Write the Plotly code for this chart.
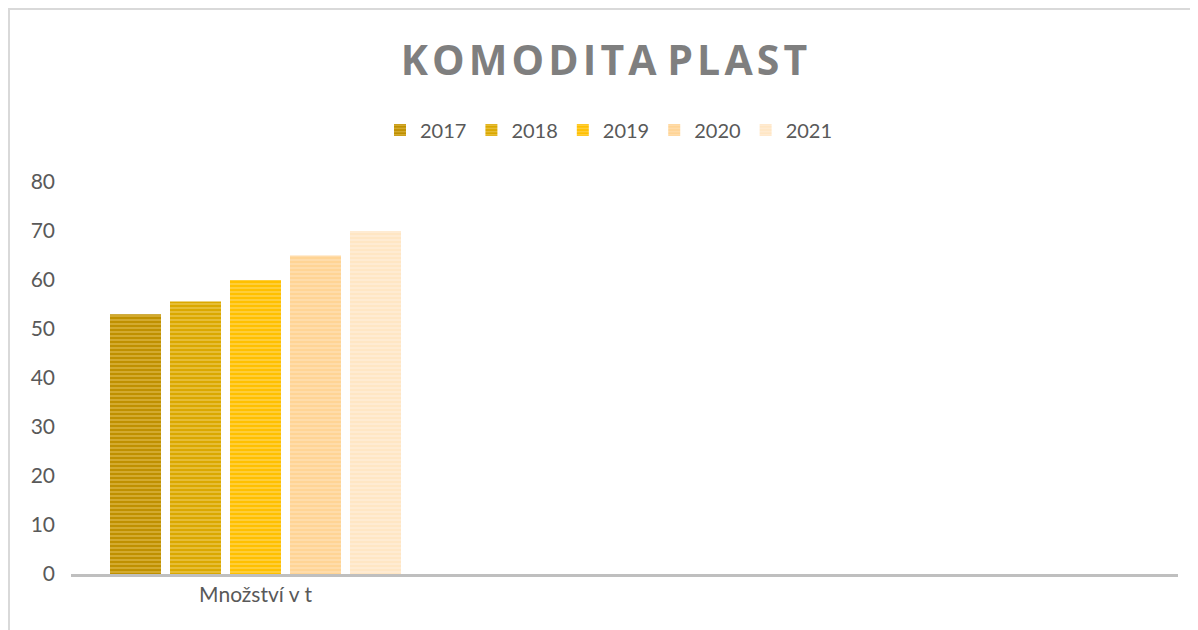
import plotly.graph_objects as go

categories = ["Množství v t"]
years = ["2017", "2018", "2019", "2020", "2021"]
values = [53, 55.6, 60, 65, 70]
base_colors = ["#BF9000", "#DAA800", "#FFC000", "#FFD495", "#FFE6C4"]
stripe_colors = ["#EBCB68", "#F4D878", "#FFE080", "#FFE8C4", "#FFF3E4"]

W, H = 1190, 622  # page body adds an 8px offset in the browser

fig = go.Figure()
for y, v, bc, sc in zip(years, values, base_colors, stripe_colors):
    fig.add_trace(go.Bar(
        name=y, x=categories, y=[v],
        marker=dict(color=bc, line=dict(width=0),
                    pattern=dict(shape="-", fgcolor=sc, bgcolor=bc, size=4, solidity=0.45,
                                 fillmode="overlay")),
    ))

fig.update_layout(
    width=W, height=H,
    paper_bgcolor="white", plot_bgcolor="white",
    margin=dict(l=63, r=20, t=174, b=56, autoexpand=False),
    barmode="group", bargap=0.187, bargroupgap=0.15,
    font=dict(family="Lato, Open Sans, sans-serif", color="#595959"),
    title=dict(text="<b>K\u200aO\u200aM\u200aO\u200aD\u200aI\u200aT\u200aA P\u200aL\u200aA\u200aS\u200aT</b>",
               x=596/W, xanchor="center", xref="container",
               y=1 - 53/H, yanchor="middle", yref="container",
               font=dict(family="Open Sans, sans-serif", size=41, color="#7F7F7F")),
    legend=dict(orientation="h", x=601/W, xanchor="center", xref="container",
                y=1 - 122/H, yanchor="middle", yref="container",
                font=dict(size=20, color="#595959"), itemwidth=30, traceorder="normal"),
    showlegend=True,
    xaxis=dict(type="category", range=[-0.5, 2.5], showgrid=False, showline=True,
               linecolor="#BFBFBF", linewidth=3, ticks="", tickfont=dict(size=21, color="#595959"),
               zeroline=False, automargin=False),
    yaxis=dict(range=[0, 80], dtick=10, showgrid=False, showline=False, zeroline=False,
               tickfont=dict(size=21, color="#595959"), ticks="", ticklabelstandoff=15,
               automargin=False),
    shapes=[dict(type="rect", xref="paper", yref="paper",
                 x0=-62/1107, x1=1.2, y0=-0.5, y1=(566 - 1)/392,
                 line=dict(color="#D9D9D9", width=2), layer="below")],
)
fig.write_html("out.html")
